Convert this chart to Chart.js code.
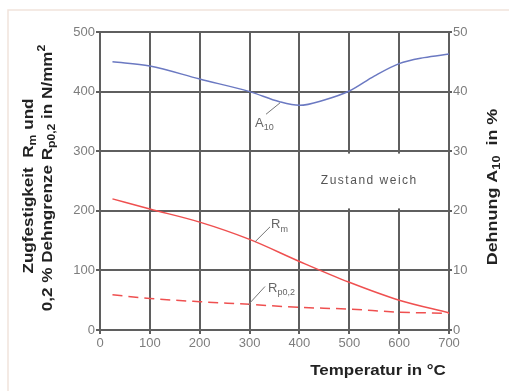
<!DOCTYPE html>
<html><head><meta charset="utf-8">
<script src="https://cdn.jsdelivr.net/npm/chart.js@4"></script>
<style>html,body{margin:0;padding:0;background:#fff;}#wrap{width:509px;height:391px;position:relative;}</style>
</head><body><div id="wrap"><canvas id="c" width="509" height="391"></canvas></div>
<script>
// ---- data ----
const xTicks = [0, 100, 200, 300, 400, 500, 600, 700];
const leftTicks = [0, 100, 200, 300, 400, 500];
const rightTicks = [0, 10, 20, 30, 40, 50];
const tempA10 = [25, 100, 200, 300, 360, 400, 450, 500, 550, 600, 650, 700];
const a10 = [45, 44.3, 42.1, 40, 38.3, 37.7, 38.6, 40.1, 42.6, 44.7, 45.7, 46.3];
const tempR = [25, 100, 200, 300, 400, 500, 600, 700];
const rm = [220, 203, 181, 152, 115, 80, 50, 29];
const rp02 = [59, 53, 47.5, 43, 38, 35, 30, 28];

const FONT = '"Liberation Sans", Arial, sans-serif';
const pts = (xs, ys) => xs.map((x, i) => ({x, y: ys[i]}));

function drawRich(ctx, segs, size, bold, color) {
  let x = 0;
  for (const s of segs) {
    const fs = s.sub || s.sup ? Math.round(size * 0.68) : size;
    ctx.font = (bold ? 'bold ' : '') + fs + 'px ' + FONT;
    ctx.fillStyle = color;
    const dy = s.sub ? size * 0.28 : (s.sup ? -size * 0.42 : 0);
    ctx.fillText(s.t, x, dy);
    x += ctx.measureText(s.t).width;
  }
  return x;
}
function richWidth(ctx, segs, size, bold) {
  let w = 0;
  for (const s of segs) {
    const fs = s.sub || s.sup ? Math.round(size * 0.68) : size;
    ctx.font = (bold ? 'bold ' : '') + fs + 'px ' + FONT;
    w += ctx.measureText(s.t).width;
  }
  return w;
}
function drawRichCentered(ctx, segs, size, bold, color, cx, cy, rot, sx) {
  ctx.save();
  ctx.translate(cx, cy);
  ctx.rotate(rot);
  ctx.scale(sx, 1);
  ctx.textBaseline = 'middle';
  ctx.textAlign = 'left';
  const w = richWidth(ctx, segs, size, bold);
  ctx.translate(-w / 2, 0);
  drawRich(ctx, segs, size, bold, color);
  ctx.restore();
}

const titleLeft1 = [{t: 'Zugfestigkeit  R'}, {t: 'm', sub: 1}, {t: ' und'}];
const titleLeft2 = [{t: '0,2 % Dehngrenze R'}, {t: 'p0,2', sub: 1}, {t: ' in N/mm'}, {t: '2', sup: 1}];
const titleRight = [{t: 'Dehnung A'}, {t: '10', sub: 1}, {t: '  in %'}];
const titleX = [{t: 'Temperatur in \u00b0C'}];

// annotation labels (data units: temperature, left-axis value)
const labels = [
  {segs: [{t: 'A'}, {t: '10', sub: 1}], x: 311, y: 341, line: [333, 362, 361, 381]},
  {segs: [{t: 'R'}, {t: 'm', sub: 1}], x: 343, y: 171, line: [311, 148, 341, 173]},
  {segs: [{t: 'R'}, {t: 'p0,2', sub: 1}], x: 337, y: 64, line: [297, 42, 331, 73]},
];
const note = {text: 'Zustand weich', x: 443, y: 250, box: [406, 296, 694, 204]};

const decor = {
  id: 'decor',
  beforeDraw(chart) {
    const ctx = chart.ctx;
    ctx.save();
    ctx.fillStyle = '#fff';
    ctx.fillRect(0, 0, chart.width, chart.height);
    ctx.strokeStyle = '#f1e3dc';
    ctx.lineWidth = 1.5;
    ctx.beginPath();
    ctx.moveTo(8, 391); ctx.lineTo(8, 10); ctx.lineTo(509, 10);
    ctx.stroke();
    ctx.restore();
  },
  afterDraw(chart) {
    const ctx = chart.ctx;
    const xs = chart.scales.x, ys = chart.scales.y;
    ctx.save();
    drawRichCentered(ctx, titleLeft1, 14, true, '#222', 29, 186, -Math.PI / 2, 1.22);
    drawRichCentered(ctx, titleLeft2, 14, true, '#222', 48, 178, -Math.PI / 2, 1.22);
    drawRichCentered(ctx, titleRight, 14, true, '#222', 493, 187, -Math.PI / 2, 1.28);
    drawRichCentered(ctx, titleX, 15, true, '#222', 378, 371, 0, 1.13);
    for (const l of labels) {
      ctx.strokeStyle = '#777';
      ctx.lineWidth = 1;
      ctx.beginPath();
      ctx.moveTo(xs.getPixelForValue(l.line[0]), ys.getPixelForValue(l.line[1]));
      ctx.lineTo(xs.getPixelForValue(l.line[2]), ys.getPixelForValue(l.line[3]));
      ctx.stroke();
      ctx.save();
      ctx.translate(xs.getPixelForValue(l.x), ys.getPixelForValue(l.y));
      ctx.textBaseline = 'alphabetic';
      ctx.textAlign = 'left';
      drawRich(ctx, l.segs, 13, false, '#666');
      ctx.restore();
    }
    // white box behind the note (interrupts vertical grid lines)
    const bx0 = xs.getPixelForValue(note.box[0]), by0 = ys.getPixelForValue(note.box[1]);
    const bx1 = xs.getPixelForValue(note.box[2]), by1 = ys.getPixelForValue(note.box[3]);
    ctx.fillStyle = '#fff';
    ctx.fillRect(bx0, by0, bx1 - bx0, by1 - by0);
    ctx.font = '12px ' + FONT;
    ctx.fillStyle = '#555';
    ctx.textBaseline = 'middle';
    ctx.textAlign = 'left';
    try { ctx.letterSpacing = '1.5px'; } catch (e) {}
    ctx.fillText(note.text, xs.getPixelForValue(note.x), ys.getPixelForValue(note.y));
    ctx.restore();
  }
};

const gridColor = '#5f5f5f';
new Chart(document.getElementById('c'), {
  type: 'line',
  data: {
    datasets: [
      {data: pts(tempA10, a10), yAxisID: 'y2', borderColor: '#6b79c2', borderWidth: 1.5, pointRadius: 0, cubicInterpolationMode: 'monotone', fill: false},
      {data: pts(tempR, rm), yAxisID: 'y', borderColor: '#ef5050', borderWidth: 1.5, pointRadius: 0, cubicInterpolationMode: 'monotone', fill: false},
      {data: pts(tempR, rp02), yAxisID: 'y', borderColor: '#ef5050', borderWidth: 1.5, borderDash: [10, 6], pointRadius: 0, cubicInterpolationMode: 'monotone', fill: false},
    ]
  },
  options: {
    responsive: false,
    animation: false,
    devicePixelRatio: 1,
    layout: {padding: {top: 32, left: 0, right: 0, bottom: 0}},
    plugins: {legend: {display: false}, tooltip: {enabled: false}},
    scales: {
      x: {
        type: 'linear', min: 0, max: 700,
        afterBuildTicks: s => { s.ticks = xTicks.map(v => ({value: v})); },
        afterFit: s => { s.height = 61; },
        grid: {color: gridColor, lineWidth: 2, tickLength: 4},
        border: {color: gridColor, width: 2},
        ticks: {color: '#7d7d7d', font: {family: FONT, size: 13}, padding: 2, maxRotation: 0}
      },
      y: {
        position: 'left', min: 0, max: 500,
        afterBuildTicks: s => { s.ticks = leftTicks.map(v => ({value: v})); },
        afterFit: s => { s.width = 100; },
        grid: {color: gridColor, lineWidth: 2, tickLength: 4},
        border: {color: gridColor, width: 2},
        ticks: {color: '#7d7d7d', font: {family: FONT, size: 13}, padding: 1}
      },
      y2: {
        position: 'right', min: 0, max: 50,
        afterBuildTicks: s => { s.ticks = rightTicks.map(v => ({value: v})); },
        afterFit: s => { s.width = 60; },
        grid: {drawOnChartArea: false, color: gridColor, lineWidth: 2, tickLength: 3},
        border: {display: true, color: gridColor, width: 2},
        ticks: {color: '#7d7d7d', font: {family: FONT, size: 13}, padding: 1}
      }
    }
  },
  plugins: [decor]
});
</script></body></html>
